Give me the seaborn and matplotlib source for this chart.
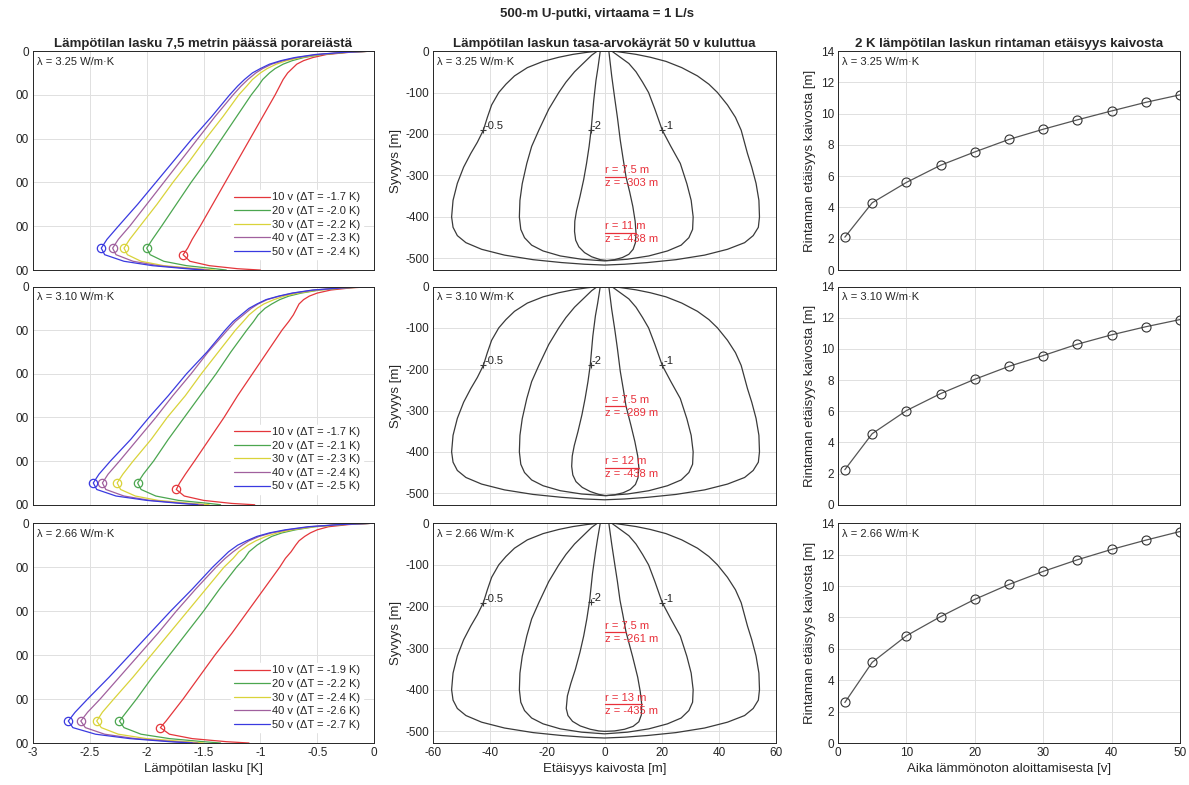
import numpy as np
import pandas as pd
import seaborn as sns
import matplotlib.pyplot as plt

sns.set_theme(style="whitegrid")
plt.rcParams['font.family'] = ['Liberation Sans', 'DejaVu Sans']
plt.rcParams['axes.unicode_minus'] = False
plt.rcParams['axes.edgecolor'] = '#262626'
plt.rcParams['axes.linewidth'] = 0.7
plt.rcParams['grid.color'] = '#e0e0e0'
plt.rcParams['grid.linewidth'] = 0.7
plt.rcParams['xtick.color'] = '#262626'
plt.rcParams['ytick.color'] = '#262626'
plt.rcParams['xtick.direction'] = 'in'
plt.rcParams['ytick.direction'] = 'in'

# --- data ---
lambdas = ['3.25', '3.10', '2.66']
years_lbl = ['10 v', '20 v', '30 v', '40 v', '50 v']
line_cols = ['#e4363b', '#4ba64f', '#d9d33a', '#a0609e', '#3a3ae0']

depth = [0, -3, -8, -15, -22, -30, -40, -50, -65, -80, -100, -150, -200, -250,
         -300, -350, -400, -430, -450, -465, -480, -490, -497, -500]

# lampotilan lasku 7,5 m paassa, rivit 10..50 v
drop_325 = [
    [0, -0.22, -0.42, -0.54, -0.62, -0.68, -0.72, -0.76, -0.8, -0.83, -0.87, -0.98, -1.09, -1.2, -1.31, -1.42, -1.53, -1.6, -1.64, -1.68, -1.62, -1.45, -1.2, -1.0],
    [0, -0.24, -0.46, -0.62, -0.72, -0.8, -0.87, -0.92, -0.98, -1.02, -1.08, -1.21, -1.34, -1.47, -1.61, -1.74, -1.87, -1.95, -2.0, -1.97, -1.85, -1.65, -1.4, -1.3],
    [0, -0.25, -0.48, -0.65, -0.77, -0.86, -0.94, -1.0, -1.07, -1.12, -1.19, -1.33, -1.48, -1.62, -1.77, -1.91, -2.06, -2.15, -2.2, -2.17, -2.05, -1.85, -1.55, -1.4],
    [0, -0.26, -0.5, -0.68, -0.8, -0.9, -0.98, -1.04, -1.11, -1.17, -1.24, -1.4, -1.55, -1.7, -1.85, -2.0, -2.15, -2.25, -2.3, -2.27, -2.12, -1.9, -1.6, -1.45],
    [0, -0.27, -0.52, -0.7, -0.82, -0.92, -1.0, -1.07, -1.14, -1.2, -1.27, -1.43, -1.6, -1.76, -1.92, -2.08, -2.25, -2.35, -2.4, -2.37, -2.2, -1.95, -1.65, -1.5],
]
drop_310 = [
    [0, -0.2, -0.38, -0.5, -0.57, -0.62, -0.66, -0.68, -0.71, -0.75, -0.81, -0.94, -1.07, -1.2, -1.32, -1.45, -1.58, -1.66, -1.71, -1.74, -1.67, -1.5, -1.25, -1.05],
    [0, -0.25, -0.48, -0.64, -0.75, -0.83, -0.9, -0.96, -1.02, -1.06, -1.12, -1.26, -1.39, -1.53, -1.67, -1.81, -1.94, -2.03, -2.08, -2.05, -1.92, -1.72, -1.45, -1.35],
    [0, -0.26, -0.49, -0.67, -0.79, -0.88, -0.97, -1.03, -1.1, -1.15, -1.22, -1.37, -1.52, -1.66, -1.82, -1.96, -2.12, -2.21, -2.26, -2.23, -2.1, -1.9, -1.6, -1.45],
    [0, -0.27, -0.52, -0.71, -0.83, -0.94, -1.02, -1.08, -1.15, -1.22, -1.29, -1.46, -1.61, -1.77, -1.92, -2.08, -2.24, -2.34, -2.39, -2.36, -2.2, -1.97, -1.66, -1.5],
    [0, -0.28, -0.54, -0.72, -0.84, -0.95, -1.03, -1.1, -1.17, -1.24, -1.31, -1.47, -1.65, -1.81, -1.98, -2.14, -2.32, -2.42, -2.47, -2.44, -2.27, -2.0, -1.7, -1.55],
]
drop_266 = [
    [0, -0.22, -0.4, -0.5, -0.56, -0.61, -0.66, -0.69, -0.73, -0.78, -0.83, -0.97, -1.11, -1.25, -1.4, -1.54, -1.68, -1.77, -1.83, -1.88, -1.8, -1.6, -1.3, -1.1],
    [0, -0.27, -0.52, -0.69, -0.81, -0.9, -0.97, -1.03, -1.1, -1.14, -1.21, -1.36, -1.5, -1.65, -1.8, -1.95, -2.09, -2.18, -2.24, -2.2, -2.05, -1.8, -1.5, -1.35],
    [0, -0.28, -0.53, -0.72, -0.85, -0.95, -1.04, -1.11, -1.19, -1.24, -1.32, -1.48, -1.64, -1.8, -1.96, -2.12, -2.29, -2.39, -2.44, -2.4, -2.25, -2.0, -1.65, -1.5],
    [0, -0.29, -0.56, -0.76, -0.9, -1.01, -1.1, -1.16, -1.24, -1.31, -1.39, -1.57, -1.74, -1.9, -2.07, -2.24, -2.41, -2.52, -2.58, -2.54, -2.37, -2.1, -1.75, -1.55],
    [0, -0.3, -0.58, -0.78, -0.92, -1.03, -1.12, -1.2, -1.28, -1.34, -1.42, -1.6, -1.79, -1.97, -2.15, -2.33, -2.52, -2.63, -2.69, -2.65, -2.45, -2.15, -1.8, -1.6],
]
# legendin dT arvot ja ympyramerkit
dT_325 = ['-1.7', '-2.0', '-2.2', '-2.3', '-2.4']
dT_310 = ['-1.7', '-2.1', '-2.3', '-2.4', '-2.5']
dT_266 = ['-1.9', '-2.2', '-2.4', '-2.6', '-2.7']
mark_x_325 = [-1.68, -2.0, -2.2, -2.3, -2.4]
mark_x_310 = [-1.74, -2.08, -2.26, -2.39, -2.47]
mark_x_266 = [-1.88, -2.24, -2.44, -2.58, -2.69]
mark_z = [-465, -450, -450, -450, -450]
depth_ticklbl = ['00', '00', '00', '00', '00', '0']   # vasen reuna on leikattu

# tasa-arvokayrat (-0.5 ja -1 yhteiset, -2 rivikohtainen)
outer_x = [-2, -6, -11, -16, -21.5, -27, -31.5, -34.5, -37, -39.5, -41, -42.4, -44.5, -46.8, -49.3, -51.5, -53, -53.5, -53, -51.5, -48.5, -43, -35, -25, -15, -7, 0,
           7, 15, 25, 35, 43, 49, 52, 53.8, 54.2, 54, 53, 51.5, 50, 47.8, 45.8, 43, 39.5, 36.5, 32.5, 27, 21.5, 16, 11, 6, 3]
outer_z = [0, -3, -8, -15, -25, -40, -60, -80, -100, -130, -160, -191, -220, -247, -280, -319, -360, -400, -425, -445, -462, -478, -492, -503, -510, -514, -516,
           -514, -510, -503, -492, -478, -462, -445, -425, -400, -360, -319, -280, -247, -191, -160, -130, -100, -80, -60, -40, -25, -15, -8, -3, 0]
middle_x = [-2.5, -4.5, -6, -7.5, -10.5, -13.5, -16, -19.5, -23, -25.5, -27.2, -28.8, -29.6, -29.8, -29.3, -28, -25.5, -21.5, -15.5, -8, 0,
            8, 15.5, 22, 26.8, 29.5, 30.8, 31, 30.3, 28.8, 26.5, 23.2, 20.2, 17.6, 15.4, 13.3, 11, 8.5, 6.5, 4.5, 2.5]
middle_z = [0, -10, -20, -30, -50, -75, -100, -140, -191, -230, -271, -320, -360, -400, -430, -450, -468, -482, -494, -502, -506,
            -502, -494, -482, -468, -450, -430, -400, -360, -320, -271, -230, -191, -140, -100, -75, -50, -30, -20, -10, 0]
inner_x_325 = [-1.5, -2.3, -3.0, -3.8, -4.7, -5.4, -6.3, -7.3, -8.6, -9.8, -10.4, -10.5, -10.1, -9, -7, -4.5, -1.5, 0.8,
               3.5, 6.2, 8.5, 10, 10.8, 11.0, 10.7, 9.9, 8.8, 7.5, 6.5, 5.5, 4.5, 3.5, 2.5, 1.5]
inner_z_325 = [0, -40, -71, -120, -190, -230, -271, -310, -351, -385, -410, -435, -456, -472, -486, -496, -503, -505,
               -503, -498, -490, -478, -462, -438, -410, -375, -340, -303, -260, -215, -160, -111, -60, 0]
inner_x_310 = [-1.5, -2.4, -3.2, -4.1, -5.0, -5.8, -6.8, -7.9, -9.3, -10.6, -11.3, -11.5, -11.1, -10, -7.8, -5, -2, 0.5,
               3.5, 6.5, 9, 10.8, 11.7, 12.0, 11.6, 10.6, 9.2, 7.5, 6.6, 5.5, 4.5, 3.6, 2.5, 1.5]
inner_z_310 = [0, -40, -71, -120, -190, -230, -271, -310, -351, -385, -410, -435, -456, -472, -486, -496, -503, -506,
               -504, -499, -491, -479, -463, -438, -410, -375, -335, -289, -250, -205, -150, -105, -55, 0]
inner_x_266 = [-1.5, -2.5, -3.2, -4.2, -5.2, -6.2, -7.3, -8.6, -10.2, -11.8, -13.0, -13.4, -12.8, -11.2, -8.5, -5, -2, 0,
               3.5, 7, 10, 12, 12.9, 13.0, 12.5, 11.6, 9.8, 7.5, 6.4, 5.4, 4.5, 3.6, 2.5, 1.5]
inner_z_266 = [0, -40, -71, -120, -185, -230, -271, -310, -351, -385, -415, -445, -462, -476, -487, -495, -499, -500,
               -499, -495, -488, -477, -460, -435, -405, -370, -320, -261, -220, -185, -140, -100, -50, 0]
clab_x = [-42.4, -4.7, 20.2]
clab_z = [-191, -190, -191]
clab_txt = ['-0.5', '-2', '-1']
front_r_325 = [7.5, 11]
front_z_325 = [-303, -438]
front_r_310 = [7.5, 12]
front_z_310 = [-289, -438]
front_r_266 = [7.5, 13]
front_z_266 = [-261, -435]

# 2 K rintaman etaisyys
years = [1, 5, 10, 15, 20, 25, 30, 35, 40, 45, 50]
dist_325 = [2.1, 4.3, 5.6, 6.7, 7.55, 8.35, 9.0, 9.6, 10.17, 10.72, 11.2]
dist_310 = [2.25, 4.56, 6.04, 7.13, 8.05, 8.88, 9.57, 10.3, 10.9, 11.42, 11.88]
dist_266 = [2.58, 5.14, 6.83, 8.05, 9.15, 10.1, 10.93, 11.67, 12.33, 12.92, 13.47]

drops = [drop_325, drop_310, drop_266]
dTs = [dT_325, dT_310, dT_266]
marks = [mark_x_325, mark_x_310, mark_x_266]
inners = [(inner_x_325, inner_z_325), (inner_x_310, inner_z_310), (inner_x_266, inner_z_266)]
fronts = [(front_r_325, front_z_325), (front_r_310, front_z_310), (front_r_266, front_z_266)]
dists = [dist_325, dist_310, dist_266]

fig = plt.figure(figsize=(11.89, 7.85), dpi=100)
rows = [(0.656, 0.279), (0.357, 0.278), (0.0535, 0.280)]
cols = [(0.0278, 0.2868), (0.3642, 0.2885), (0.7048, 0.2876)]
tfs = 8.5
red = '#e8303a'

for i in range(3):
    bot, h = rows[i]
    lam = 'λ = ' + lambdas[i] + ' W/m·K'

    # vasen: lampotilan lasku
    ax = fig.add_axes([cols[0][0], bot, cols[0][1], h])
    for k in range(5):
        sns.lineplot(x=drops[i][k], y=depth, sort=False, estimator=None, ax=ax,
                     color=line_cols[k], linewidth=0.9,
                     label=years_lbl[k] + ' (ΔT = ' + dTs[i][k] + ' K)')
        ax.plot(marks[i][k], mark_z[k], 'o', mfc='none', mec=line_cols[k], ms=6, mew=0.9)
    ax.set_xlim(-3, 0)
    ax.set_ylim(-500, 0)
    ax.set_xticks(np.arange(-3, 0.01, 0.5))
    ax.set_yticks(range(-500, 1, 100))
    ax.set_yticklabels(depth_ticklbl)
    ax.set_xlabel('')
    ax.set_ylabel('')
    ax.tick_params(labelsize=tfs, length=3, width=0.6, pad=3)
    ax.legend(loc='lower right', fontsize=8, frameon=True, facecolor='white',
              edgecolor='white', framealpha=1, handlelength=3.3, handletextpad=0.2,
              labelspacing=0.32, borderaxespad=1.0, borderpad=0.2)
    ax.text(0.012, 0.975, lam, transform=ax.transAxes, fontsize=8, va='top', ha='left')
    if i < 2:
        ax.set_xticklabels([])
    else:
        ax.set_xticklabels(['-3', '-2.5', '-2', '-1.5', '-1', '-0.5', '0'])
        ax.set_xlabel('Lämpötilan lasku [K]', fontsize=9.5, labelpad=3)
    if i == 0:
        ax.set_title('Lämpötilan lasku 7,5 metrin päässä porareiästä', fontsize=9.5,
                     fontweight='bold', pad=3)

    # keski: tasa-arvokayrat
    ax = fig.add_axes([cols[1][0], bot, cols[1][1], h])
    ix, iz = inners[i]
    for cx, cz in [(outer_x, outer_z), (middle_x, middle_z), (ix, iz)]:
        sns.lineplot(x=cx, y=cz, sort=False, estimator=None, ax=ax, color='#3a3a3a', linewidth=0.9)
    for k in range(3):
        ax.plot(clab_x[k], clab_z[k], '+', color='#3a3a3a', ms=5, mew=0.8)
        ax.text(clab_x[k] + 0.3, clab_z[k] - 2, clab_txt[k], fontsize=8, va='bottom', ha='left',
                color='#222222')
    fr, fz = fronts[i]
    for k in range(2):
        ax.plot([0, fr[k]], [fz[k], fz[k]], color=red, linewidth=0.9)
        ax.text(0.2, fz[k] + 3, 'r = ' + str(fr[k]) + ' m', color=red, fontsize=8,
                va='bottom', ha='left')
        ax.text(0.2, fz[k] - 4, 'z = ' + str(fz[k]) + ' m', color=red, fontsize=8,
                va='top', ha='left')
    ax.set_xlim(-60, 60)
    ax.set_ylim(-528, 0)
    ax.set_xticks(range(-60, 61, 20))
    ax.set_yticks(range(-500, 1, 100))
    ax.set_ylabel('Syvyys [m]', fontsize=9.5, labelpad=2)
    ax.set_xlabel('')
    ax.tick_params(labelsize=tfs, length=3, width=0.6, pad=3)
    ax.text(0.012, 0.975, lam, transform=ax.transAxes, fontsize=8, va='top', ha='left')
    if i < 2:
        ax.set_xticklabels([])
    else:
        ax.set_xlabel('Etäisyys kaivosta [m]', fontsize=9.5, labelpad=3)
    if i == 0:
        ax.set_title('Lämpötilan laskun tasa-arvokäyrät 50 v kuluttua', fontsize=9.5,
                     fontweight='bold', pad=3)

    # oikea: rintaman etaisyys
    ax = fig.add_axes([cols[2][0], bot, cols[2][1], h])
    sns.lineplot(x=years, y=dists[i], ax=ax, color='#555555', linewidth=0.9, marker='o',
                 markersize=6.5, markerfacecolor='none', markeredgecolor='#333333', markeredgewidth=0.8)
    ax.set_xlim(0, 50)
    ax.set_ylim(0, 14)
    ax.set_xticks(range(0, 51, 10))
    ax.set_yticks(range(0, 15, 2))
    ax.set_ylabel('Rintaman etäisyys kaivosta [m]', fontsize=9.5, labelpad=3)
    ax.set_xlabel('')
    ax.tick_params(labelsize=tfs, length=3, width=0.6, pad=3)
    ax.text(0.012, 0.975, lam, transform=ax.transAxes, fontsize=8, va='top', ha='left')
    if i < 2:
        ax.set_xticklabels([])
    else:
        ax.set_xlabel('Aika lämmönoton aloittamisesta [v]', fontsize=9.5, labelpad=3)
    if i == 0:
        ax.set_title('2 K lämpötilan laskun rintaman etäisyys kaivosta', fontsize=9.5,
                     fontweight='bold', pad=3)

fig.text(0.502, 0.982, '500-m U-putki, virtaama = 1 L/s', fontsize=9.5, fontweight='bold',
         ha='center', va='center')

plt.savefig('out.png', dpi=100)
